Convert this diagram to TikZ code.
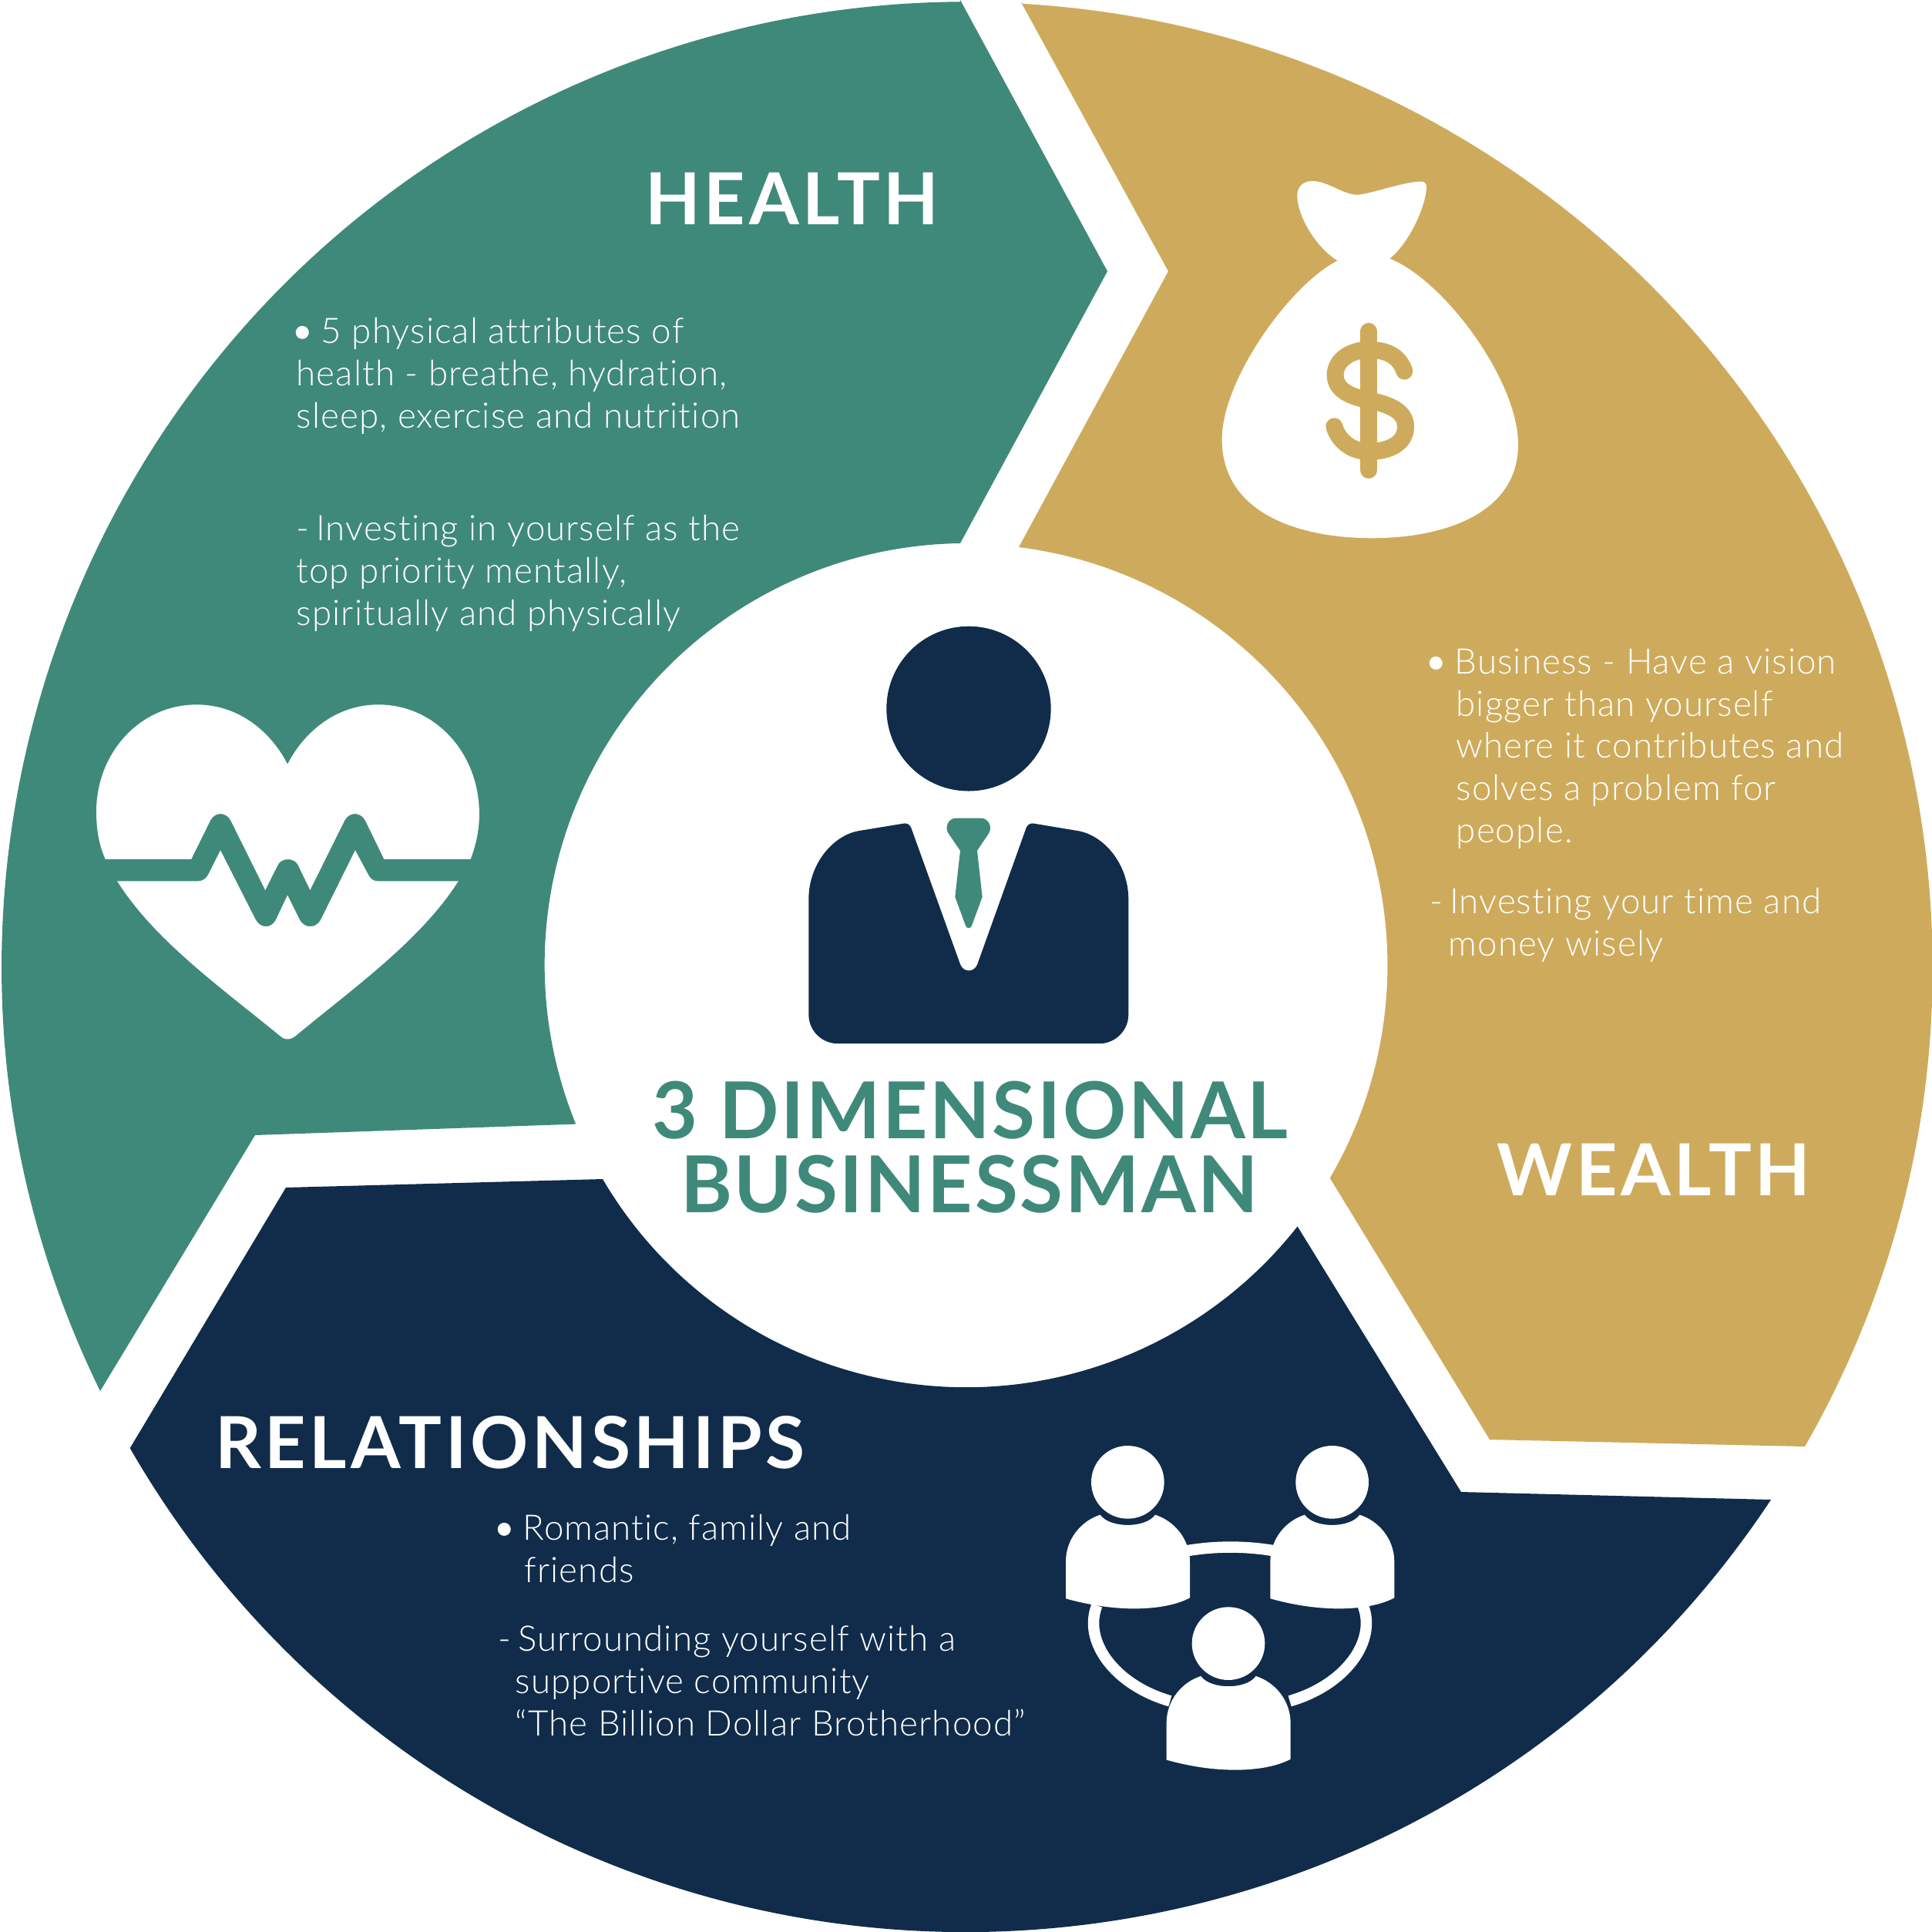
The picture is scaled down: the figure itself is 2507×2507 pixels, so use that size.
\documentclass[tikz,border=0pt]{standalone}
\usepackage{fontspec}
\setmainfont{Lato}
\newfontfamily\bodyfont{Lato Light}[LetterSpace=2.4, Ligatures=NoCommon]
\newfontfamily\headfont{Lato}[LetterSpace=5, BoldFont={Lato Bold}]
\newfontfamily\titlefont{Lato}[LetterSpace=2.6, BoldFont={Lato Bold}]
\definecolor{tealseg}{HTML}{3F897B}
\definecolor{goldseg}{HTML}{CEAB5C}
\definecolor{navyseg}{HTML}{102C4A}
\tikzset{
        headtext/.style={text=white, inner sep=0, anchor=base, font=\fontsize{26.5}{30}\headfont\bfseries},
        titletext/.style={text=tealseg, inner sep=0, anchor=base, font=\fontsize{29}{30}\titlefont\bfseries},
        bodytext/.style={text=white, inner sep=0, anchor=north west, align=left, font=\fontsize{13}{15.6}\bodyfont},
}
\newcommand{\hang}[1]{\hspace*{#1cm}}
\newcommand{\bulletmark}{\hspace*{-0.05cm}{\normalfont•}\hspace{-0.03cm} }
\newcommand{\dashmark}{-\hspace{-0.05cm} }
\newcommand{\personicon}[2]{
        \begin{scope}[shift={(#1,#2)}]
        \draw[fill=white, draw=none, radius=142](370,250) circle;
        \fill[white](129,703)--(129,560) .. controls (129,470) and (190,400) .. (263,377) .. controls (300,430) and (440,430) .. (477,377) .. controls (550,400) and (612,470) .. (612,560) -- (612,700) .. controls (530,745) and (350,765) .. (129,703) -- cycle;
        \end{scope}
}
\begin{document}
\begin{tikzpicture}[x=0.1mm, y=-0.1mm]
        \useasboundingbox (0,0) rectangle (2507,2507);
        \fill[white](0,0) rectangle (2507,2507);
        % segments
        \fill[tealseg](1246,0)--(1437,352)--(1246,705) arc[start angle=-90.8, end angle=-202.2, radius=547]--(331,1473)--(130,1805) arc[start angle=-206.1, end angle=-90.4, radius=1252]--cycle;
        \fill[goldseg](1325,3)--(1516,352)--(1322,710) arc[start angle=-82.8, end angle=30.3, radius=547]--(1933,1868)--(2342,1877) arc[start angle=29.8, end angle=-86.7, radius=1252]--cycle;
        \fill[navyseg](371,1541)--(782,1530) arc[start angle=-210.4, end angle=-321.8, radius=547]--(1896,1936)--(2298,1946) arc[start angle=-326.5, end angle=-209.9, radius=1252]--cycle;
        % heart
        \begin{scope}[shift={(100,880)}, xscale=0.357, yscale=0.3333]
        \fill[white](103,705) .. controls (80,650) and (70,590) .. (70,520) .. controls (70,290) and (230,103) .. (435,103) .. controls (580,103) and (700,200) .. (765,335) .. controls (830,200) and (950,103) .. (1095,103) .. controls (1300,103) and (1462,290) .. (1462,530) .. controls (1462,590) and (1450,650) .. (1430,705)--(1116,705)--(1047,553) .. controls (1030,520) and (990,520) .. (973,553)--(847,825)--(803,727) .. controls (790,698) and (742,698) .. (730,727)--(684,825)--(558,553) .. controls (541,520) and (501,520) .. (485,553)--(415,705)--cycle;
        \fill[white](146,790)--(440,790) .. controls (458,790) and (470,780) .. (478,762)--(521,670)--(650,942) .. controls (668,975) and (705,975) .. (722,942)--(765,845)--(810,942) .. controls (827,975) and (868,975) .. (885,942)--(1011,670)--(1057,762) .. controls (1065,780) and (1075,790) .. (1092,790)--(1386,790) .. controls (1250,1020) and (1000,1210) .. (795,1392) .. controls (775,1410) and (755,1410) .. (737,1392) .. controls (530,1210) and (280,1020) .. (146,790)--cycle;
        \end{scope}
        % money bag
        \begin{scope}[shift={(1540,200)}, scale=0.3333]
        \fill[white](587,415) .. controls (500,360) and (430,240) .. (430,160) .. controls (430,125) and (455,105) .. (490,105) .. controls (550,105) and (610,160) .. (665,158) .. controls (720,155) and (850,105) .. (915,107) .. controls (935,110) and (933,125) .. (933,135) .. controls (925,220) and (860,350) .. (790,407) .. controls (1000,490) and (1290,880) .. (1290,1130) .. controls (1290,1400) and (1000,1495) .. (720,1495) .. controls (440,1495) and (137,1400) .. (137,1110) .. controls (137,880) and (400,510) .. (587,415)--cycle;
        \draw[goldseg, line width=2.2mm, line cap=round](708,690)--(708,1230);
        \draw[goldseg, line width=2.2mm, line cap=round](847,845) .. controls (825,780) and (770,762) .. (708,762) .. controls (640,762) and (578,800) .. (578,860) .. controls (578,920) and (640,945) .. (708,958) .. controls (790,975) and (852,1000) .. (852,1062) .. controls (852,1125) and (790,1158) .. (708,1158) .. controls (640,1158) and (590,1115) .. (574,1060);
        \end{scope}
        % businessman
        \begin{scope}[shift={(1000,780)}, xscale=0.3333, yscale=0.3846]
        \fill[navyseg](771,363) ellipse[x radius=320, y radius=278];
        \fill[navyseg](262,1493) .. controls (200,1493) and (148,1450) .. (148,1395)--(148,1005) .. controls (148,890) and (240,790) .. (345,775)--(520,750) .. controls (532,749) and (542,755) .. (547,765)--(738,1225) .. controls (750,1254) and (793,1254) .. (805,1225)--(995,765) .. controls (1000,755) and (1010,749) .. (1022,750)--(1195,775) .. controls (1300,790) and (1393,890) .. (1393,1005)--(1393,1395) .. controls (1393,1450) and (1340,1493) .. (1280,1493)--cycle;
        \fill[tealseg](723,732)--(818,732) .. controls (850,732) and (865,765) .. (848,785)--(804,842)--(824,998)--(783,1095) .. controls (778,1106) and (764,1106) .. (759,1095)--(718,998)--(738,842)--(693,785) .. controls (676,765) and (690,732) .. (723,732)--cycle;
        \end{scope}
        % people
        \begin{scope}[shift={(1340,1840)}, scale=0.3333]
        \draw[white, line width=1.45mm](600,517) .. controls (710,498) and (830,498) .. (940,517);
        \draw[white, line width=1.45mm](250,730) .. controls (195,870) and (320,1040) .. (535,1102);
        \draw[white, line width=1.45mm](1286,730) .. controls (1341,870) and (1216,1040) .. (1001,1102);
        \personicon{0}{0}
        \personicon{796}{0}
        \personicon{392}{628}
        \end{scope}
        % labels
        \node[headtext] (health) at (1028,292) {HEALTH};
        \node[headtext] (wealth) at (2146,1551) {WEALTH};
        \node[headtext] (relationships) at (662,1905) {RELATIONSHIPS};
        \node[titletext] (title1) at (1259,1477) {3 DIMENSIONAL};
        \node[titletext] (title2) at (1258,1573) {BUSINESSMAN};
        \node[bodytext] (healthone) at (384,412) {\bulletmark 5 physical attributes of\\health - breathe, hydration,\\sleep, exercise and nutrition};
        \node[bodytext] (healthtwo) at (384,668) {\dashmark Investing in yourself as the\\top priority mentally,\\spiritually and physically};
        \node[bodytext] (wealthone) at (1855,841) {\bulletmark Business - Have a vision\\\hang{0.34}bigger than yourself\\\hang{0.34}where it contributes and\\\hang{0.34}solves a problem for\\\hang{0.34}people.};
        \node[bodytext] (wealthtwo) at (1855,1152) {\dashmark Investing your time and\\\hang{0.24}money wisely};
        \node[bodytext] (relone) at (646,1965) {\bulletmark Romantic, family and\\\hang{0.34}friends};
        \node[bodytext] (reltwo) at (646,2109) {\dashmark Surrounding yourself with a\\\hang{0.22}supportive community\\\hang{0.22}“The Billion Dollar Brotherhood”};
\end{tikzpicture}
\end{document}
